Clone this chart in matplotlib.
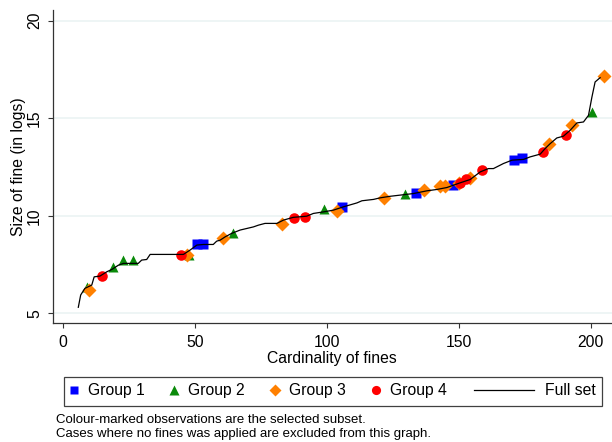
import numpy as np
import matplotlib
matplotlib.use("Agg")
import matplotlib.pyplot as plt
from matplotlib.lines import Line2D
from matplotlib.patches import Rectangle

plt.rcParams['font.family'] = ['Liberation Sans', 'DejaVu Sans']

# full set (sorted log fines)
line_x = [5.9, 6.8, 8.4, 11.0, 11.9, 14.1, 16.7, 18.6, 21.1, 23.0, 28.6, 29.9, 31.8, 33.1,
          43.8, 45.7, 48.2, 50.8, 53.3, 57.0, 58.3, 59.6, 61.5, 64.0, 67.2, 69.7, 72.2, 74.1,
          76.6, 81.1, 83.6, 87.3, 92.4, 94.9, 98.7, 102.5, 106.3, 111.4, 113.3, 117.7, 120.2,
          124.0, 127.8, 132.8, 137.9, 141.7, 145.5, 150.5, 154.3, 158.1, 161.2, 163.1, 166.9,
          170.1, 174.5, 177.0, 180.8, 182.7, 184.6, 187.1, 189.6, 192.2, 194.7, 197.2, 199.1,
          200.4, 201.6, 203.5]
line_y = [5.31, 5.94, 6.28, 6.45, 6.87, 6.91, 7.13, 7.25, 7.47, 7.56, 7.56, 7.73, 7.76, 8.02,
          8.02, 8.02, 8.24, 8.50, 8.53, 8.53, 8.70, 8.75, 8.92, 9.10, 9.27, 9.35, 9.43, 9.52,
          9.61, 9.61, 9.78, 9.92, 9.98, 10.12, 10.20, 10.29, 10.46, 10.66, 10.77, 10.84, 10.92,
          11.00, 11.06, 11.14, 11.28, 11.35, 11.45, 11.69, 11.86, 12.25, 12.42, 12.42, 12.68,
          12.85, 12.89, 13.02, 13.16, 13.45, 13.70, 13.99, 14.08, 14.39, 14.76, 14.81, 15.15,
          16.09, 16.86, 17.08]

g1_x = [51.0, 53.0, 105.8, 133.7, 147.7, 171.0, 174.0]
g1_y = [8.53, 8.53, 10.46, 11.18, 11.57, 12.86, 12.95]
g2_x = [9.1, 18.9, 23.0, 26.7, 48.0, 64.6, 99.0, 129.7, 200.4]
g2_y = [6.36, 7.37, 7.72, 7.72, 7.98, 9.10, 10.33, 11.14, 15.34]
g3_x = [10.1, 47.0, 60.6, 83.0, 103.8, 121.8, 136.8, 142.9, 144.8, 150.2, 154.3, 184.2, 192.8, 205.0]
g3_y = [6.19, 7.98, 8.84, 9.57, 10.25, 10.92, 11.31, 11.53, 11.53, 11.69, 11.96, 13.67, 14.64, 17.15]
g4_x = [14.8, 44.8, 87.7, 91.8, 150.5, 152.8, 158.7, 181.8, 190.5]
g4_y = [6.91, 7.98, 9.90, 9.95, 11.69, 11.91, 12.37, 13.27, 14.16]

c_blue = '#0000ff'
c_green = '#0a8a0a'
c_orange = '#ff8000'
c_red = '#ff0000'

fig = plt.figure(figsize=(6.12, 4.42), dpi=100)
ax = fig.add_axes([0.0861, 0.2686, 0.9139, 0.7088])

ax.plot(g1_x, g1_y, 's', color=c_blue, ms=7.0, mec='none', zorder=3)
ax.plot(g2_x, g2_y, '^', color=c_green, ms=7.6, mec='none', zorder=3)
ax.plot(g3_x, g3_y, 'D', color=c_orange, ms=6.8, mec='none', zorder=3)
ax.plot(g4_x, g4_y, 'o', color=c_red, ms=7.6, mec='none', zorder=3)
ax.plot(line_x, line_y, '-', color='black', lw=0.9, zorder=4)

ax.set_xlim(-3.8, 208)
ax.set_ylim(4.49, 20.55)
ax.set_xticks([0, 50, 100, 150, 200])
ax.set_yticks([5, 10, 15, 20])
ax.yaxis.grid(True, color='#eaf2f3', lw=1.1)
ax.set_axisbelow(True)
for s in ['top', 'right']:
    ax.spines[s].set_visible(False)
for s in ['left', 'bottom']:
    ax.spines[s].set_color('#333333')
    ax.spines[s].set_linewidth(0.9)
ax.tick_params(axis='both', direction='out', length=3.6, width=0.8, color='#333333',
               labelsize=11.3, pad=4.5)
ax.tick_params(axis='y', pad=4)
for lab in ax.get_yticklabels():
    lab.set_rotation(90)
    lab.set_va('center')
ax.set_xlabel('Cardinality of fines', fontsize=11.3, labelpad=1)
ax.set_ylabel('Size of fine (in logs)', fontsize=11.3, labelpad=1)

# legend: markers part and line part inside one frame
h_marks = [Line2D([], [], ls='none', marker='s', color=c_blue, ms=6.2, mec='none'),
           Line2D([], [], ls='none', marker='^', color=c_green, ms=6.8, mec='none'),
           Line2D([], [], ls='none', marker='D', color=c_orange, ms=6.0, mec='none'),
           Line2D([], [], ls='none', marker='o', color=c_red, ms=6.6, mec='none')]
leg1 = fig.legend(h_marks, ['Group 1', 'Group 2', 'Group 3', 'Group 4'], ncol=4,
                  frameon=False, fontsize=11.3, handlelength=0.8, handletextpad=0.49,
                  columnspacing=1.51, borderpad=0, borderaxespad=0,
                  loc='center left', bbox_to_anchor=(0.110, 0.1154))
leg2 = fig.legend([Line2D([], [], color='black', lw=0.9)], ['Full set'],
                  frameon=False, fontsize=11.3, handlelength=3.82, handletextpad=0.7,
                  borderpad=0, borderaxespad=0,
                  loc='center right', bbox_to_anchor=(0.974, 0.1154))
fig.patches.append(Rectangle((0.1046, 0.0814), 0.879, 0.0663, transform=fig.transFigure,
                             fill=False, edgecolor='#404040', lw=0.9))

fig.text(0.0915, 0.0498, 'Colour-marked observations are the selected subset.',
         fontsize=9.5, va='center', ha='left')
fig.text(0.0915, 0.0181, 'Cases where no fines was applied are excluded from this graph.',
         fontsize=9.5, va='center', ha='left')

fig.savefig('out.png', dpi=100)
